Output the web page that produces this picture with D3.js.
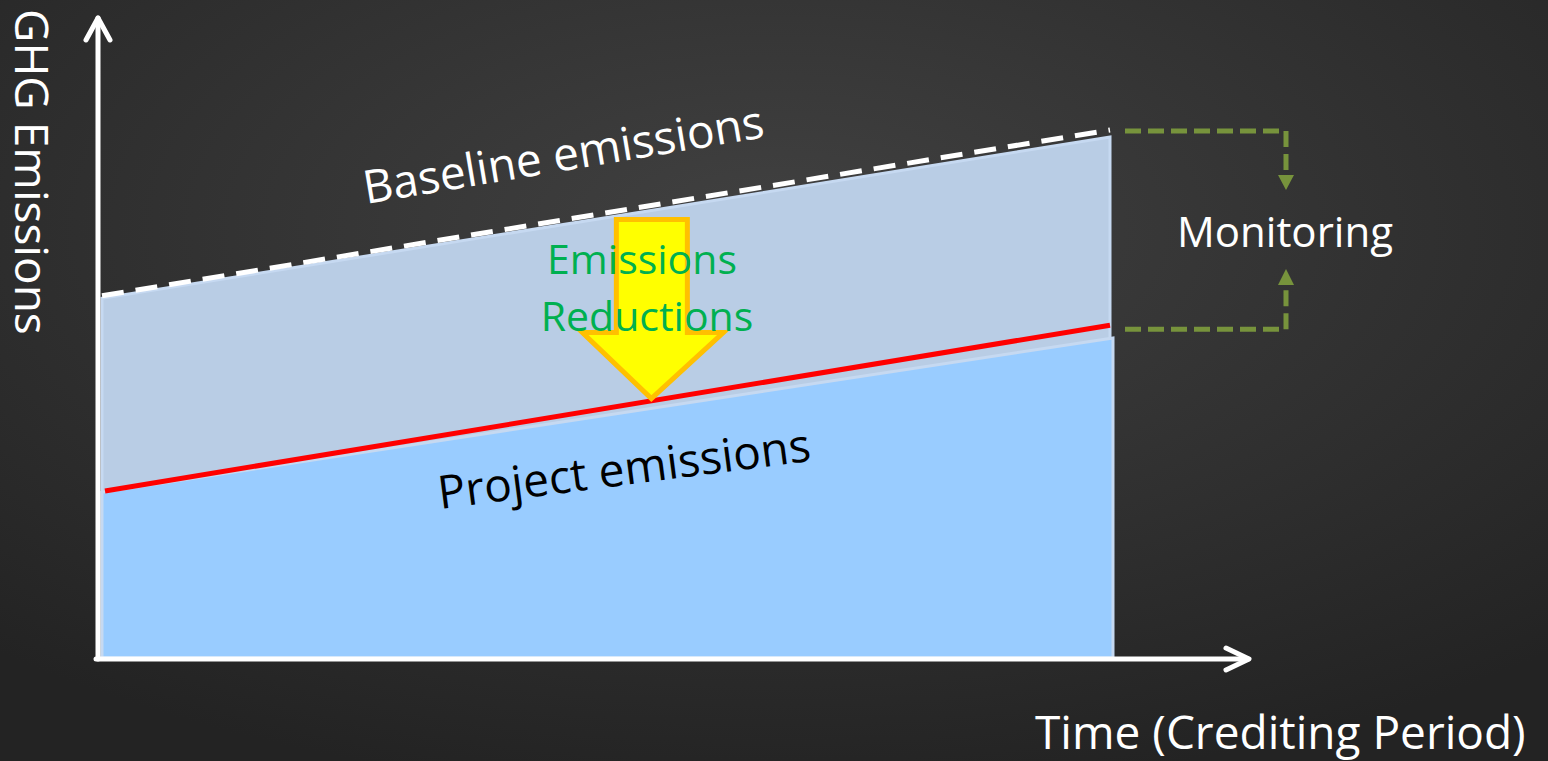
<!doctype html>
<html>
<head>
<meta charset="utf-8">
<script src="https://cdn.jsdelivr.net/npm/d3@7"></script>
<style>
    html, body { margin: 0; padding: 0; background: #2b2b2b; }
    svg { display: block; }
    text { font-family: "Open Sans", "DejaVu Sans", sans-serif; }
</style>
</head>
<body>
<svg id="chart"></svg>
<script>
    // time axis (crediting period, arbitrary units) and emissions levels
    var periods = [0, 10];
    var baseline = [56.6, 82.5];       // dashed white line
    var baselineFill = [56.2, 81.4];   // grey-blue area top
    var project = [26.1, 52.0];        // red line
    var projectFill = [25.9, 50.0];    // blue area top
    var arrowAt = 5.45;                // where the reduction arrow sits

    var W = 1548, H = 761;
    var svg = d3.select('#chart').attr('width', W).attr('height', H);

    var defs = svg.append('defs');
    var bg = defs.append('radialGradient').attr('id', 'bg')
        .attr('cx', '50%').attr('cy', '30%').attr('r', '75%');
    bg.append('stop').attr('offset', '0%').attr('stop-color', '#414141');
    bg.append('stop').attr('offset', '100%').attr('stop-color', '#232323');
    svg.append('rect').attr('width', W).attr('height', H).attr('fill', 'url(#bg)');

    var x = d3.scaleLinear().domain(d3.extent(periods)).range([102, 1110]);
    var y = d3.scaleLinear().domain([0, 100]).range([658, 18]);

    var rows = periods.map(function(t, i){
        return {t: t, base: baseline[i], baseFill: baselineFill[i], proj: project[i], projFill: projectFill[i]};
    });

    // baseline area (grey-blue)
    svg.append('path')
        .datum(rows)
        .attr('d', d3.area().x(function(d){ return x(d.t); }).y0(y(0)).y1(function(d){ return y(d.baseFill); }))
        .attr('fill', '#b9cde5')
        .attr('stroke', '#c6d9f1')
        .attr('stroke-width', 3);

    // project area (light blue)
    svg.append('path')
        .datum(rows)
        .attr('d', d3.area()
            .x(function(d, i){ return x(d.t) + (i ? 3 : 0); })
            .y0(y(0)).y1(function(d){ return y(d.projFill); }))
        .attr('fill', '#99ccff')
        .attr('stroke', '#c6d9f1')
        .attr('stroke-width', 3);

    // baseline dashed line
    svg.append('path')
        .datum(rows)
        .attr('d', d3.line().x(function(d){ return x(d.t); }).y(function(d){ return y(d.base); }))
        .attr('fill', 'none')
        .attr('stroke', '#ffffff')
        .attr('stroke-width', 5)
        .attr('stroke-dasharray', '22,12');

    // project line
    svg.append('path')
        .datum(rows)
        .attr('d', d3.line().x(function(d, i){ return x(d.t) + (i ? 0 : 3); }).y(function(d){ return y(d.proj); }))
        .attr('fill', 'none')
        .attr('stroke', '#ff0000')
        .attr('stroke-width', 5);

    // yellow reduction arrow, from baseline down to the project line
    var interpBase = d3.scaleLinear().domain(periods).range(baseline);
    var interpProj = d3.scaleLinear().domain(periods).range(project);
    var ax = x(arrowAt);
    var aTop = y(interpBase(arrowAt)) + 14;
    var aTip = y(interpProj(arrowAt)) - 2;
    var aNeck = aTip - 66;
    svg.append('path')
        .attr('d', 'M' + (ax - 35) + ',' + aTop + 'H' + (ax + 36) + 'V' + aNeck +
            'H' + (ax + 72) + 'L' + ax + ',' + aTip + 'L' + (ax - 69) + ',' + aNeck +
            'H' + (ax - 35) + 'Z')
        .attr('fill', '#ffff00')
        .attr('stroke', '#ffc000')
        .attr('stroke-width', 5)
        .attr('stroke-linejoin', 'miter');

    // axes with open arrow heads
    var axisG = svg.append('g').attr('stroke', '#ffffff').attr('stroke-width', 5)
        .attr('fill', 'none').attr('stroke-linecap', 'round').attr('stroke-linejoin', 'round');
    axisG.append('path').attr('d', 'M98,659V18');
    axisG.append('path').attr('d', 'M86,40L98,18L110,40');
    axisG.append('path').attr('d', 'M96,659H1248');
    axisG.append('path').attr('d', 'M1226,648L1249,659L1226,670');

    // monitoring bracket
    var xEnd = x(periods[1]);
    var yTopB = y(baseline[1]) + 1, yBotB = y(project[1]) + 4;
    var bx = 1286;
    var mon = svg.append('g').attr('stroke', '#77933c').attr('stroke-width', 5).attr('fill', 'none')
        .attr('stroke-dasharray', '16,7');
    mon.append('path').attr('d', 'M' + (xEnd + 15) + ',' + yTopB + 'H' + bx + 'V' + 176);
    mon.append('path').attr('d', 'M' + (xEnd + 15) + ',' + yBotB + 'H' + bx + 'V' + 283);
    svg.append('path').attr('d', 'M' + (bx - 8) + ',175L' + bx + ',190L' + (bx + 8) + ',175Z').attr('fill', '#77933c');
    svg.append('path').attr('d', 'M' + (bx - 8) + ',285L' + bx + ',269L' + (bx + 8) + ',285Z').attr('fill', '#77933c');

    // labels
    svg.append('text').attr('x', 1177).attr('y', 247).attr('font-size', 42).attr('fill', '#ffffff').text('Monitoring');

    svg.append('text').attr('x', 642).attr('y', 274).attr('text-anchor', 'middle')
        .attr('font-size', 41).attr('fill', '#00b050').text('Emissions');
    svg.append('text').attr('x', 647).attr('y', 331).attr('text-anchor', 'middle')
        .attr('font-size', 41).attr('fill', '#00b050').text('Reductions');

    svg.append('text').attr('transform', 'translate(366,204) rotate(-9.5)')
        .attr('font-size', 46).attr('fill', '#ffffff').text('Baseline emissions');
    svg.append('text').attr('transform', 'translate(440,509) rotate(-7.4)')
        .attr('font-size', 46).attr('fill', '#000000').text('Project emissions');

    svg.append('text').attr('transform', 'translate(15,9) rotate(90)')
        .attr('font-size', 46).attr('fill', '#ffffff').text('GHG Emissions');
    svg.append('text').attr('x', 1035).attr('y', 749)
        .attr('font-size', 46).attr('fill', '#ffffff').text('Time (Crediting Period)');
</script>
</body>
</html>
